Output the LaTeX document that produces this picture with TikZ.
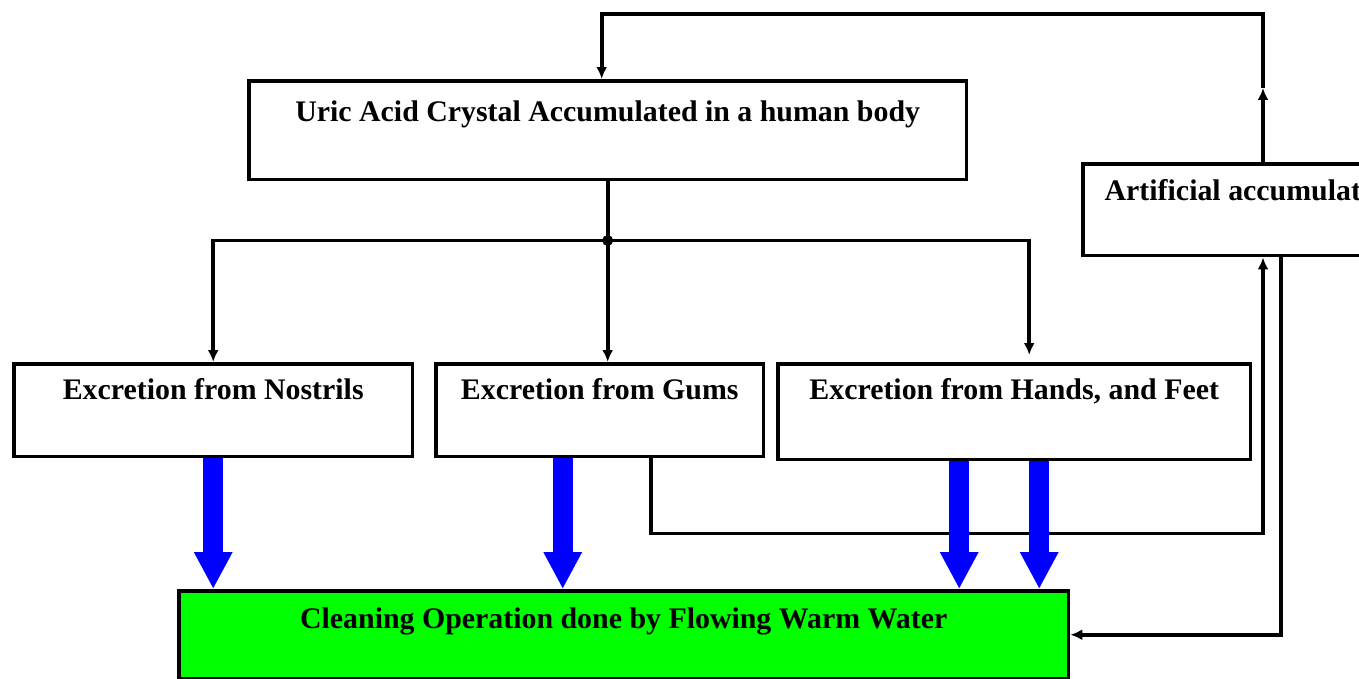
\documentclass[tikz,border=0pt]{standalone}
\usepackage{fontspec}
\setmainfont{Liberation Serif}
\usetikzlibrary{arrows.meta,calc}
\tikzset{
  box/.style={draw,line width=2pt,anchor=north west,inner sep=0pt,
    font=\fontsize{17}{20}\selectfont\bfseries},
  conn/.style={line width=2.2pt},
  conn arrow/.style={conn,-{Latex[length=0.24cm,width=0.22cm]}},
  water/.style={draw=blue,line width=0.4cm,-{Triangle[length=0.74cm,width=0.72cm]}},
}

\begin{document}
\begin{tikzpicture}[x=0.02cm,y=-0.02cm]
\useasboundingbox (0,0) rectangle (1359,679);
% boxes
\node[box,minimum width=14.36cm,text height=0.82cm,text depth=1.16cm] (top) at (247,79) {Uric Acid Crystal Accumulated in a human body};
\node[box,minimum width=6.8cm,text height=0.74cm,text depth=1.10cm] (art) at (1081,162) {Artificial accumulation};
\node[box,minimum width=7.98cm,text height=0.72cm,text depth=1.14cm] (nostrils) at (12,362) {Excretion from Nostrils};
\node[box,minimum width=6.56cm,text height=0.72cm,text depth=1.14cm] (gums) at (434,362) {Excretion from Gums};
\node[box,minimum width=9.46cm,text height=0.72cm,text depth=1.20cm] (hands) at (776,362) {Excretion from Hands, and Feet};
\node[box,fill={rgb,255:red,0;green,255;blue,0},minimum width=17.8cm,text height=0.76cm,text depth=1.0cm] (green) at (177,589) {Cleaning Operation done by Flowing Warm Water};

% split to the excretion boxes
\coordinate (split) at ($(top.south)+(0,59)$);
\draw[conn] (top.south) -- (split);
\fill (split) circle[radius=0.11cm];
\draw[conn arrow] (split) -| (nostrils.north);
\draw[conn arrow] (split) -- (split |- gums.north);
\draw[conn arrow,shorten >=0.14cm] (split) -| ($(hands.north)+(15,0)$);

% feedback loop
\coordinate (art out) at ($(art.north west)+(182,0)$);
\coordinate (art in) at ($(art.south west)+(182,0)$);
\coordinate (art down) at ($(art.south west)+(200,0)$);
\draw[conn arrow] (art out) -- ++(0,-74) coordinate (mid);
\draw[conn arrow] (mid) -- ++(0,-74) -| ($(top.north)+(-6,0)$);
\draw[conn arrow] ($(gums.south)+(51,0)$) -- ++(0,75) -| (art in);
\draw[conn arrow] (art down) |- (green.east);

% warm water flow
\draw[water] (nostrils.south) -- (nostrils.south |- green.north);
\draw[water] ($(gums.south)+(-37,0)$) coordinate (w1) -- (w1 |- green.north);
\draw[water] ($(hands.south)+(-55,0)$) coordinate (w2) -- (w2 |- green.north);
\draw[water] ($(hands.south)+(25,0)$) coordinate (w3) -- (w3 |- green.north);
\end{tikzpicture}
\end{document}
